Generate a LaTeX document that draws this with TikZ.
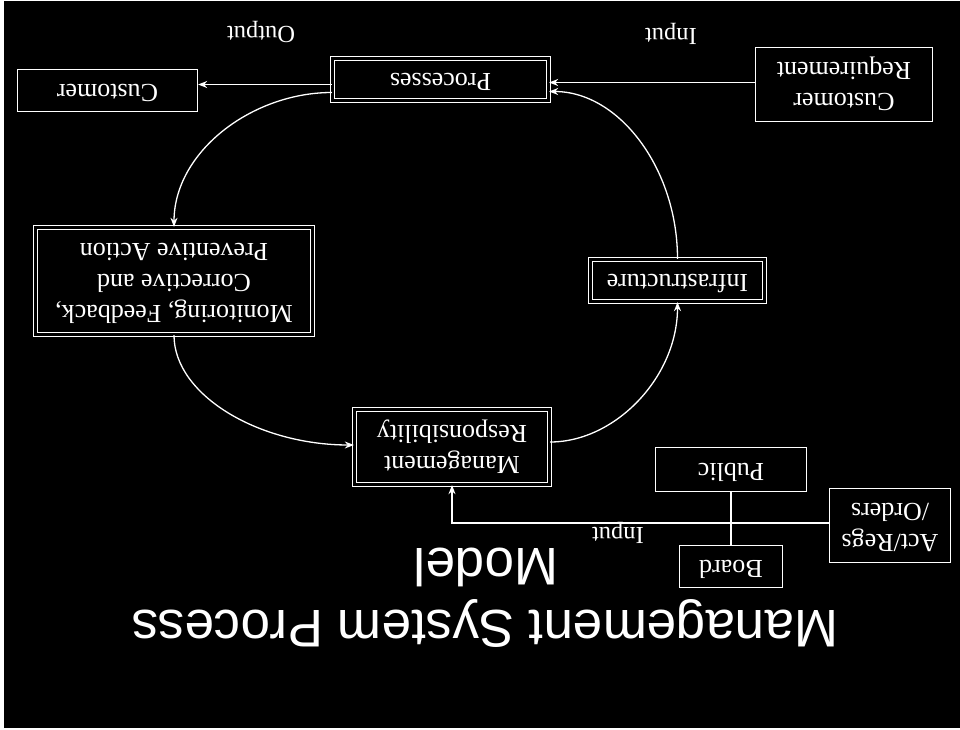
\documentclass[tikz,border=0pt]{standalone}
\usepackage{fontspec}
\setmainfont{Liberation Serif}
\newfontfamily\titlefont{Liberation Sans}
\usepackage{graphicx}
\usetikzlibrary{arrows.meta,calc}
\newcommand{\updown}[1]{\rotatebox{180}{\begin{tabular}{@{}c@{}}#1\end{tabular}}}
\begin{document}
\begin{tikzpicture}[x=1pt,y=-1pt,
  boxfont/.style={font=\fontsize{26}{31}\selectfont},
  sbox/.style={draw=white, line width=1.3pt, boxfont, text=white, inner sep=0pt},
  dbox/.style={draw=white, double=black, double distance=2.5pt, line width=1.3pt, boxfont, text=white, inner sep=0pt},
  lbl/.style={text=white, font=\fontsize{24.5}{29}\selectfont, inner sep=0pt},
  ttl/.style={text=white, font=\titlefont\fontsize{53}{62}\selectfont, rotate=180, anchor=base, inner sep=0pt},
  conn/.style={white, line width=1.3pt},
  arr/.style={conn, -{Stealth[length=9pt,width=7pt]}},
]
\fill[white] (0,0) rectangle (960,730);
\fill[black] (4,1) rectangle (960,728);
\useasboundingbox (0,0) rectangle (960,730);

\node[dbox, minimum width=216pt, minimum height=42pt] (proc) at (440.5,79.5) {\updown{Processes}};
\node[sbox, minimum width=180pt, minimum height=42pt] (cust) at (107.5,90.5) {\updown{Customer}};
\node[sbox, minimum width=177pt, minimum height=74pt] (creq) at (844,84.5) {\updown{Customer\\Requirement}};
\node[dbox, minimum width=277pt, minimum height=107pt] (mon) at (174,281) {\updown{Monitoring, Feedback,\\Corrective and\\Preventive Action}};
\node[dbox, minimum width=174pt, minimum height=42pt] (infra) at (677.5,280.5) {\updown{Infrastructure}};
\node[dbox, minimum width=195pt, minimum height=75pt] (mgmt) at (452,447) {\updown{Management\\Responsibility}};
\node[sbox, minimum width=151pt, minimum height=44pt] (pub) at (731,469.5) {\updown{Public}};
\node[sbox, minimum width=103pt, minimum height=42pt] (board) at (731,566.5) {\updown{Board}};
\node[sbox, minimum width=121pt, minimum height=74pt] (act) at (890,525.5) {\updown{Act/Regs\\/Orders}};

\node[lbl] (outl) at (261,32) {\rotatebox{180}{Output}};
\node[lbl] (inl) at (671,34) {\rotatebox{180}{Input}};
\node[lbl] (inl2) at (618,533) {\rotatebox{180}{Input}};

\node[ttl] (t1) at (485,610) {Management System Process};
\node[ttl] (t2) at (486,548) {Model};

% straight connectors
\coordinate (cri) at ($(creq.west)+(0,-2)$);
\draw[arr] (cri) -- (cri -| proc.east);
\coordinate (po) at ($(proc.west)+(0,5)$);
\draw[arr] (po) -- (po -| cust.east);
\coordinate (aw) at ($(act.west)+(0,-2.5)$);
\draw[arr] (aw) -| (mgmt.south);
\draw[conn] (pub.south) -- (board.north);

% cycle
\draw[arr] ($(proc.west)+(0,13)$) .. controls +(-80,0) and +(0,-75) .. (mon.north);
\draw[arr] (mon.south) .. controls +(0,60) and +(-95,0) .. ($(mgmt.west)+(0,-2)$);
\draw[arr] ($(mgmt.east)+(0,-5)$) .. controls +(65,0) and +(0,75) .. (infra.south);
\draw[arr] (infra.north) .. controls +(0,-90) and +(70,0) .. ($(proc.east)+(0,12)$);
\end{tikzpicture}
\end{document}
